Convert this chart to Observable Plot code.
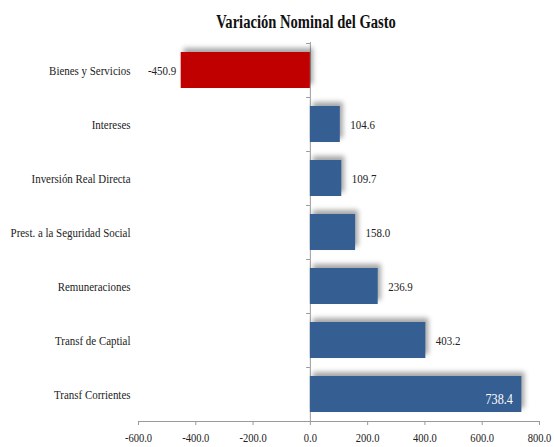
<!DOCTYPE html>
<html>
<head>
<meta charset="utf-8">
<script src="https://cdn.jsdelivr.net/npm/d3@7"></script>
<script src="https://cdn.jsdelivr.net/npm/@observablehq/plot@0.6"></script>
<style>
  html, body { margin: 0; padding: 0; background: #fff; }
  #chart { width: 554px; height: 447px; }
  #chart svg, #chart svg text, #chart svg g {
    font-family: "Liberation Serif", "Times New Roman", "DejaVu Serif", serif !important;
  }
</style>
</head>
<body>
<div id="chart"></div>
<script>
const title = "Variación Nominal del Gasto";
const categories = [
  "Bienes y Servicios",
  "Intereses",
  "Inversión Real Directa",
  "Prest. a la Seguridad Social",
  "Remuneraciones",
  "Transf de Captial",
  "Transf Corrientes"
];
const values = [-450.9, 104.6, 109.7, 158.0, 236.9, 403.2, 738.4];
const xTicks = [-600, -400, -200, 0, 200, 400, 600, 800];

const data = categories.map((c, i) => ({category: c, value: values[i]}));
const maxVal = d3.max(values);
const fmt = d => d.toFixed(1);
const RED = "#c00000", BLUE = "#355e93", GRAY = "#9a9a9a";
const FONT = '"Liberation Serif", "Times New Roman", serif';

const plot = Plot.plot({
  width: 554,
  height: 447,
  marginTop: 42,
  marginBottom: 26,
  marginLeft: 138,
  marginRight: 15,
  style: {background: "#fff"},
  x: {domain: [-600, 800]},
  y: {domain: categories, paddingInner: 1/3, paddingOuter: 1/6},
  marks: [
    Plot.text([title], {frameAnchor: "top", text: d => d, dx: -33, dy: -27,
      fontSize: 18, fontWeight: "bold", fill: "#111", fontFamily: FONT}),
    Plot.ruleX([0], {stroke: GRAY, strokeWidth: 1}),
    Plot.ruleY(categories, {y: d => d, x1: -13, x2: 0, dy: -27, stroke: GRAY}),
    Plot.frame({anchor: "bottom", stroke: GRAY}),
    Plot.barX(data, {y: "category", x: "value", fill: d => d.value < 0 ? RED : BLUE}),
    Plot.text(data.filter(d => d.value < 0), {y: "category", x: "value", text: d => fmt(d.value),
      textAnchor: "end", dx: -5, fontSize: 13.5, fill: "#222", fontFamily: FONT}),
    Plot.text(data.filter(d => d.value > 0 && d.value < maxVal), {y: "category", x: "value", text: d => fmt(d.value),
      textAnchor: "start", dx: 10, fontSize: 13.5, fill: "#222", fontFamily: FONT}),
    Plot.text(data.filter(d => d.value === maxVal), {y: "category", x: "value", text: d => fmt(d.value),
      textAnchor: "end", dx: -9, dy: 5, fontSize: 15, fill: "#fff", fontFamily: FONT}),
    Plot.axisY({tickSize: 0, tickPadding: 8, fontSize: 13.5, color: "#222", label: null, fontFamily: FONT}),
    Plot.axisX({ticks: xTicks, tickFormat: fmt, tickSize: 4, tickPadding: 7, fontSize: 13,
      stroke: GRAY, color: "#222", label: null, fontFamily: FONT})
  ]
});

document.getElementById("chart").appendChild(plot);

// bar shadows (soft, offset up-right as in the reference)
plot.querySelectorAll('g[aria-label="bar"] rect').forEach(r => {
  r.style.filter = "drop-shadow(3px -4px 2.5px rgba(0,0,0,0.35))";
});
plot.querySelectorAll('g[aria-label="x-axis tick"]').forEach(g => g.setAttribute("stroke", GRAY));

// condensed text look
plot.querySelectorAll("text").forEach(t => {
  const w = t.getComputedTextLength();
  if (w > 0) {
    t.setAttribute("textLength", (w * 0.81).toFixed(2));
    t.setAttribute("lengthAdjust", "spacingAndGlyphs");
  }
});
</script>
</body>
</html>
